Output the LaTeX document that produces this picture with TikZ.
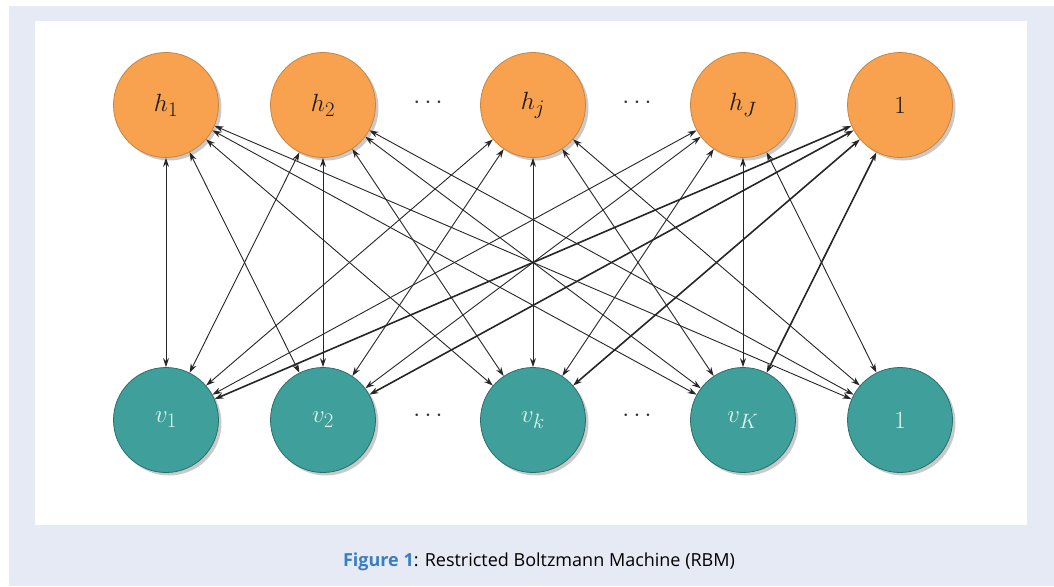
\documentclass[tikz,border=0pt]{standalone}
\usepackage{fontspec}
\newfontfamily\capfont{Open Sans}
\usetikzlibrary{arrows.meta,shadows}
\definecolor{lav}{HTML}{E6EAF5}
\definecolor{horange}{HTML}{F8A14E}
\definecolor{hborder}{HTML}{C9843E}
\definecolor{vteal}{HTML}{3F9F9B}
\definecolor{vborder}{HTML}{2B6F6C}
\definecolor{vtext}{HTML}{E4F6F4}
\definecolor{figblue}{HTML}{3A7EC0}
\begin{document}
\begin{tikzpicture}[x=1pt,y=-1pt,
 unit/.style={circle, minimum size=105pt, inner sep=0pt, line width=0.8pt,
   font=\fontsize{31}{36}\selectfont,
   drop shadow={shadow xshift=3pt, shadow yshift=-3pt, opacity=0.35, fill=black!60}},
 hid/.style={unit, fill=horange, draw=hborder, text=black!90},
 vis/.style={unit, fill=vteal, draw=vborder, text=vtext},
 wt/.style={{Stealth[length=9pt,width=6pt]}-{Stealth[length=9pt,width=6pt]}, line width=0.9pt, draw=black!85},
 bias/.style={wt, line width=1.6pt},
 dotsn/.style={font=\fontsize{26}{30}\selectfont, text=black!80},
 capn/.style={font=\capfont\fontsize{18}{22}\selectfont}
]
\useasboundingbox (0,0) rectangle (1054,586);
\fill[lav] (9,6) rectangle (1054,586);
\fill[white] (35,21) rectangle (1027,525);

\node[hid] (h1) at (166,105) {$h_1$};
\node[hid] (h2) at (323,105) {$h_2$};
\node[hid] (hj) at (533,105) {$h_j$};
\node[hid] (hJ) at (743,105) {$h_J$};
\node[hid] (hb) at (900,105) {$1$};

\node[vis] (v1) at (166,420) {$v_1$};
\node[vis] (v2) at (323,420) {$v_2$};
\node[vis] (vk) at (533,420) {$v_k$};
\node[vis] (vK) at (743,420) {$v_K$};
\node[vis] (vb) at (900,420) {$1$};

\node[dotsn] (dh1) at (428,103) {$\cdots$};
\node[dotsn] (dh2) at (637,103) {$\cdots$};
\node[dotsn] (dv1) at (428,416) {$\cdots$};
\node[dotsn] (dv2) at (637,416) {$\cdots$};

\foreach \a in {h1,h2,hj,hJ}{\foreach \b in {v1,v2,vk,vK,vb}{\draw[wt] (\a) -- (\b);}}
\foreach \b in {v1,v2,vk,vK}{\draw[bias] (hb) -- (\b);}

\node[capn] (cap) at (539,562) {\textcolor{figblue}{\bfseries Figure 1}: Restricted Boltzmann Machine (RBM)};
\end{tikzpicture}
\end{document}
